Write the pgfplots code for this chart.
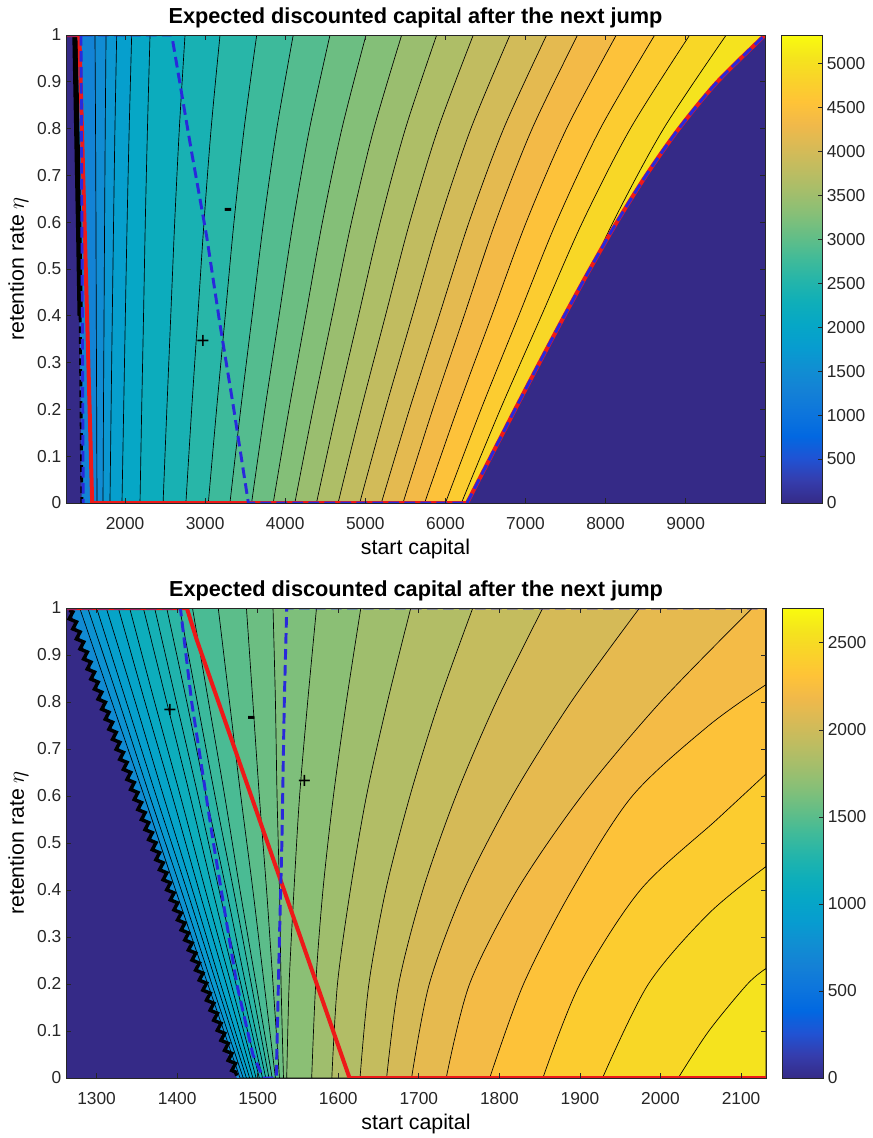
\documentclass[border=0pt]{standalone}
\usepackage{fontspec}
\setmainfont{Liberation Sans}
\usepackage{pgfplots}
\pgfplotsset{compat=1.18}
\usetikzlibrary{decorations.pathmorphing}

\definecolor{pdark}{rgb}{0.2081,0.1663,0.5292}
\definecolor{optred}{rgb}{0.93,0.10,0.10}
\definecolor{signblue}{rgb}{0.16,0.16,0.86}
\definecolor{axgray}{gray}{0.15}

\pgfplotsset{
  colormap={parula}{
    rgb=(0.2081,0.1663,0.5292) rgb=(0.2081,0.2386,0.6771) rgb=(0.1253,0.3242,0.8303)
    rgb=(0.0060,0.4086,0.8828) rgb=(0.0498,0.4586,0.8641) rgb=(0.0779,0.5040,0.8384)
    rgb=(0.0641,0.5570,0.8240) rgb=(0.0265,0.6137,0.8135) rgb=(0.0228,0.6535,0.7768)
    rgb=(0.0590,0.6838,0.7254) rgb=(0.1453,0.7098,0.6646) rgb=(0.2586,0.7317,0.5954)
    rgb=(0.3953,0.7459,0.5244) rgb=(0.5300,0.7491,0.4661) rgb=(0.6473,0.7456,0.4188)
    rgb=(0.7525,0.7384,0.3768) rgb=(0.8507,0.7299,0.3360) rgb=(0.9450,0.7261,0.2886)
    rgb=(0.9990,0.7653,0.2164) rgb=(0.9789,0.8271,0.1633) rgb=(0.9589,0.8949,0.1132)
    rgb=(0.9763,0.9831,0.0538)},
  /pgf/number format/assume math mode=true,
  /pgf/number format/1000 sep={},
  tick label style={font=\fontsize{13}{15}\selectfont, text=axgray},
  capplot/.style={
    scale only axis, axis on top,
    ymin=0, ymax=1,
    ytick={0,0.1,0.2,0.3,0.4,0.5,0.6,0.7,0.8,0.9,1},
    yticklabel style={/pgf/number format/fixed, /pgf/number format/precision=1},
    tick align=inside, major tick length=3.5pt,
    axis line style={axgray, line width=0.5pt},
    tick style={axgray, line width=0.5pt},
    xticklabel style={anchor=base, yshift=-19.5pt},
    title={Expected discounted capital after the next jump},
    title style={font=\bfseries\fontsize{16.3}{19}\selectfont, anchor=base, yshift=3pt},
    xlabel={start capital},
    xlabel style={font=\fontsize{16}{18}\selectfont, at={(axis description cs:0.5,0)}, anchor=base, yshift=-38.25pt},
    ylabel={retention rate $\eta$},
    ylabel style={font=\fontsize{16}{18}\selectfont, at={(axis description cs:-0.068,0.5)}, anchor=center},
    colorbar, colormap name=parula,
    colorbar/width=30.75pt,
  },
  cbar/.style={
    at={(parent axis.north east)}, anchor=north west, xshift=3.5pt,
    scale only axis, height=#1,
    tick align=inside, major tick length=3pt,
    ytick pos=right, yticklabel pos=right,
    axis line style={axgray, line width=0.5pt},
    tick style={axgray, line width=0.5pt},
  },
}

% one filled contour band: the level curve plus everything to its right
\newcommand{\band}[2]{%
  \addplot[smooth, color of colormap={#1 of parula}, fill=., draw=black, line width=0.5pt]
    coordinates {#2} -- (rel axis cs:1,1) -- (rel axis cs:1,0) -- cycle;}

\begin{document}
\begin{tikzpicture}
\path[use as bounding box] (0pt,0pt) rectangle (654.75pt,-853.5pt);

% ---------------- upper panel ----------------
\begin{axis}[capplot,
  at={(49.5pt,-377.25pt)}, anchor=south west,
  width=524.25pt, height=351pt,
  xmin=1263, xmax=9990,
  xtick={2000,3000,4000,5000,6000,7000,8000,9000},
  point meta min=0, point meta max=5320,
  colorbar style={cbar=351pt, ytick={0,500,1000,1500,2000,2500,3000,3500,4000,4500,5000}},
]
\band{247}{(1263,0) (1263,1)}
\band{280}{(1650,0) (1646,0.2) (1641,0.4) (1637,0.6) (1632,0.8) (1625,1)}
\band{314}{(1725,0) (1731,0.2) (1738,0.4) (1745,0.6) (1753,0.8) (1763,1)}
\band{347}{(1812,0) (1826,0.2) (1841,0.4) (1857,0.6) (1874,0.8) (1896,1)}
\band{381}{(1962,0) (1983,0.2) (2004,0.4) (2026,0.6) (2052,0.8) (2083,1)}
\band{414}{(2187,0) (2208,0.2) (2231,0.4) (2253,0.6) (2280,0.8) (2312,1)}
\band{448}{(2475,0) (2522,0.2) (2571,0.4) (2620,0.6) (2678,0.8) (2749,1)}
\band{481}{(2760,0) (2832,0.2) (2909,0.4) (2986,0.6) (3075,0.8) (3186,1)}
\band{515}{(3040,0) (3143,0.2) (3251,0.4) (3360,0.6) (3487,0.8) (3644,1)}
\band{548}{(3310,0) (3444,0.2) (3587,0.4) (3729,0.6) (3895,0.8) (4100,1)}
\band{582}{(3580,0) (3746,0.2) (3923,0.4) (4099,0.6) (4304,0.8) (4559,1)}
\band{615}{(3850,0) (4047,0.2) (4256,0.4) (4464,0.6) (4708,0.8) (5009,1)}
\band{649}{(4120,0) (4347,0.2) (4587,0.4) (4827,0.6) (5107,0.8) (5454,1)}
\band{682}{(4390,0) (4645,0.2) (4915,0.4) (5186,0.6) (5501,0.8) (5891,1)}
\band{716}{(4660,0) (4947,0.2) (5251,0.4) (5555,0.6) (5909,0.8) (6348,1)}
\band{749}{(4930,0) (5249,0.2) (5587,0.4) (5924,0.6) (6318,0.8) (6806,1)}
\band{783}{(5200,0) (5551,0.2) (5922,0.4) (6294,0.6) (6727,0.8) (7264,1)}
\band{816}{(5470,0) (5841,0.2) (6233,0.4) (6625,0.6) (7083,0.8) (7650,1)}
\band{850}{(5740,0) (6147,0.2) (6578,0.4) (7009,0.6) (7512,0.8) (8134,1)}
\band{883}{(6000,0) (6444,0.2) (6915,0.4) (7385,0.6) (7934,0.8) (8613,1)}
\band{917}{(6200,0) (6685,0.2) (7198,0.4) (7711,0.6) (8309,0.8) (9050,1)}
\band{950}{(6500,0) (7011,0.2) (7552,0.4) (8093,0.6) (8724,0.8) (9506,1)}
% region without a value (ruin), left strip and lower right
\addplot[draw=none, fill=pdark] coordinates {(1263,0) (1263,1) (1390,1) (1460,0)} -- cycle;
\addplot[draw=none, fill=pdark, smooth] coordinates {(6270,0) (6570,0.1) (6870,0.2) (7175,0.3) (7485,0.4) (7805,0.5) (8140,0.6) (8505,0.7) (8915,0.8) (9395,0.9) (9990,1)} -- (rel axis cs:1,0) -- cycle;
\addplot[black, line width=4pt] coordinates {(1375,1) (1420,0.6) (1440,0.4)};
\addplot[black, line width=2.2pt, dash pattern=on 5pt off 3pt] coordinates {(1440,0.4) (1462,0)};
% optimal retention (red) and sign change of the derivative (blue)
\addplot[optred, line width=3pt] coordinates {(1263,1) (1430,1) (1590,0) (6270,0)};
\addplot[optred, line width=3pt, smooth] coordinates {(6270,0) (6570,0.1) (6870,0.2) (7175,0.3) (7485,0.4) (7805,0.5) (8140,0.6) (8505,0.7) (8915,0.8) (9395,0.9) (9990,1)};
\addplot[signblue, line width=2.2pt, dash pattern=on 8pt off 4pt] coordinates {(1450,1) (1478,0)};
\addplot[signblue, line width=2.2pt, dash pattern=on 8pt off 4pt] coordinates {(1263,1) (2583,1) (2832,0.749) (3020,0.569) (3186,0.381) (3352,0.207) (3540,0) (6270,0)};
\addplot[signblue, line width=2.2pt, dash pattern=on 8pt off 4pt, smooth] coordinates {(6270,0) (6570,0.1) (6870,0.2) (7175,0.3) (7485,0.4) (7805,0.5) (8140,0.6) (8505,0.7) (8915,0.8) (9395,0.9) (9990,1)};
\node[font=\bfseries\fontsize{19}{20}\selectfont] at (axis cs:3286,0.62) {-};
\node[font=\fontsize{17}{18}\selectfont] at (axis cs:2974,0.344) {+};
\end{axis}

% ---------------- lower panel ----------------
\begin{axis}[capplot,
  at={(49.5pt,-808.5pt)}, anchor=south west,
  width=525pt, height=352.5pt,
  xmin=1262, xmax=2131,
  xtick={1300,1400,1500,1600,1700,1800,1900,2000,2100},
  point meta min=0, point meta max=2700,
  colorbar style={cbar=352.5pt, ytick={0,500,1000,1500,2000,2500}},
]
\band{276}{(1262,0) (1262,1)}
\band{300}{(1478,0) (1438,0.2) (1398,0.4) (1359,0.6) (1319,0.8) (1279,1)}
\band{324}{(1482,0) (1443,0.2) (1405,0.4) (1366,0.6) (1328,0.8) (1289,1)}
\band{347}{(1486,0) (1449,0.2) (1412,0.4) (1374,0.6) (1337,0.8) (1300,1)}
\band{371}{(1490,0) (1454,0.2) (1419,0.4) (1383,0.6) (1348,0.8) (1312,1)}
\band{394}{(1494,0) (1461,0.2) (1427,0.4) (1394,0.6) (1360,0.8) (1327,1)}
\band{418}{(1498,0) (1467,0.2) (1435,0.4) (1404,0.6) (1372,0.8) (1341,1)}
\band{441}{(1502,0) (1473,0.2) (1444,0.4) (1416,0.6) (1387,0.8) (1358,1)}
\band{465}{(1506,0) (1479,0.2) (1452,0.4) (1426,0.6) (1399,0.8) (1372,1)}
\band{488}{(1510,0) (1485,0.2) (1461,0.4) (1436,0.6) (1412,0.8) (1387,1)}
\band{512}{(1514,0) (1492,0.2) (1470,0.4) (1447,0.6) (1425,0.8) (1403,1)}
\band{535}{(1518,0) (1498,0.2) (1478,0.4) (1459,0.6) (1439,0.8) (1419,1)}
\band{559}{(1522,0) (1508,0.2) (1494,0.4) (1479,0.6) (1465,0.8) (1451,1)}
\band{582}{(1527,0) (1519,0.2) (1511,0.4) (1502,0.6) (1494,0.8) (1486,1)}
\band{606}{(1532,0) (1529,0.2) (1527,0.4) (1524,0.6) (1522,0.8) (1519,1)}
\band{625}{(1536,0) (1539,0.2) (1545,0.4) (1552,0.6) (1562,0.8) (1573,1)}
\band{657}{(1567,0) (1572,0.2) (1581,0.4) (1594,0.6) (1610,0.8) (1628,1)}
\band{690}{(1592,0) (1599,0.2) (1615,0.4) (1635,0.6) (1661,0.8) (1690,1)}
\band{722}{(1627,0) (1638,0.2) (1659,0.4) (1689,0.6) (1725,0.8) (1767,1)}
\band{755}{(1660,0) (1675,0.2) (1705,0.4) (1746,0.6) (1796,0.8) (1854,1)}
\band{787}{(1691,0) (1713,0.2) (1756,0.4) (1816,0.6) (1889,0.8) (1974,1)}
\band{820}{(1734,0) (1763,0.2) (1822,0.4) (1902,0.6) (2000,0.8) (2114,1)}
\band{852}{(1788,0) (1830,0.2) (1890,0.4) (1965,0.6) (2060,0.75) (2131,0.837)}
\band{885}{(1854,0) (1900,0.2) (1975,0.4) (2070,0.55) (2131,0.647)}
\band{917}{(1928,0) (1985,0.2) (2060,0.35) (2131,0.45)}
\band{950}{(2022,0) (2060,0.1) (2108,0.2) (2131,0.233)}
% region without a value (ruin)
\addplot[draw=none, fill=pdark] coordinates {(1262,0) (1262,1) (1266,1) (1474,0)} -- cycle;
\addplot[black, line width=2.6pt, decorate, decoration={zigzag, segment length=8pt, amplitude=2.2pt}] coordinates {(1266,0.995) (1474,0.005)};
% optimal retention (red) and sign change of the derivative (blue)
\addplot[optred, line width=3pt] coordinates {(1262,1) (1412,1) (1424,0.934) (1614,0) (2131,0)};
\addplot[signblue, line width=2.2pt, dash pattern=on 8pt off 4pt] coordinates {(1262,1) (1404,1) (1418,0.8) (1445,0.5) (1474,0.2) (1494,0.05) (1507,0) (1523,0) (1527,0.3) (1530,0.5) (1533,0.8) (1536,1) (2131,1)};
\node[font=\fontsize{17}{18}\selectfont] at (axis cs:1391,0.78) {+};
\node[font=\bfseries\fontsize{19}{20}\selectfont] at (axis cs:1492,0.76) {-};
\node[font=\fontsize{17}{18}\selectfont] at (axis cs:1558,0.63) {+};
\end{axis}
\end{tikzpicture}
\end{document}
